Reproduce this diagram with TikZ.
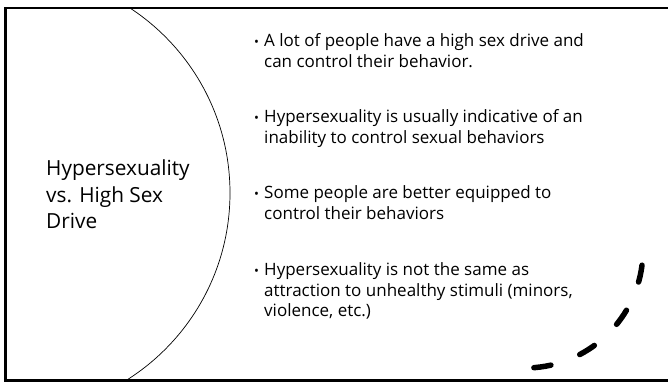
\documentclass[tikz,border=0pt]{standalone}
\usepackage{fontspec}
\setmainfont{Open Sans}[Ligatures={NoCommon}]
\begin{document}
\begin{tikzpicture}[x=1pt,y=1pt,
  frame/.style={line width=2.5pt},
  bigarc/.style={line width=0.7pt},
  swoosh/.style={line width=5.5pt,line cap=round,dash pattern=on 17.2pt off 30.8pt},
  titletext/.style={anchor=base west,inner sep=0pt,align=left,font=\fontsize{20.8}{26.5}\selectfont},
  bullettext/.style={anchor=base west,inner sep=0pt,align=left,font=\fontsize{17}{20.5}\selectfont},
  dot/.style={anchor=base,inner sep=0pt,font=\fontsize{13}{20}\selectfont}]
\useasboundingbox (0,0) rectangle (668,382);
% frame
\draw[frame] (668,374) -- (5.5,374) -- (5.5,1.5) -- (668,1.5);
% big arc
\begin{scope}
\clip (5.5,1.5) rectangle (668,374);
\draw[bigarc] (9,189) circle[radius=221];
\end{scope}
% title (anchored at the baseline of its last line)
\node[titletext] (title) at (46,153) {Hypersexuality\\vs. High Sex\\Drive};
% bullets (dots on first baselines, texts on last baselines)
\node[dot] (d1) at (256.5,335) {•};
\node[bullettext] (b1) at (264,314.5) {A lot of people have a high sex drive and\\can control their behavior.};
\node[dot] (d2) at (256.5,259) {•};
\node[bullettext] (b2) at (264,238.5) {Hypersexuality is usually indicative of an\\inability to control sexual behaviors};
\node[dot] (d3) at (256.5,183) {•};
\node[bullettext] (b3) at (264,162.5) {Some people are better equipped to\\control their behaviors};
\node[dot] (d4) at (256.5,106) {•};
\node[bullettext] (b4) at (264,65) {Hypersexuality is not the same as\\attraction to unhealthy stimuli (minors,\\violence, etc.)};
% dashed swoosh
\draw[swoosh] (525,132) ++(-7.4:118) arc[start angle=-7.4,end angle=-88,radius=118];
\end{tikzpicture}
\end{document}
